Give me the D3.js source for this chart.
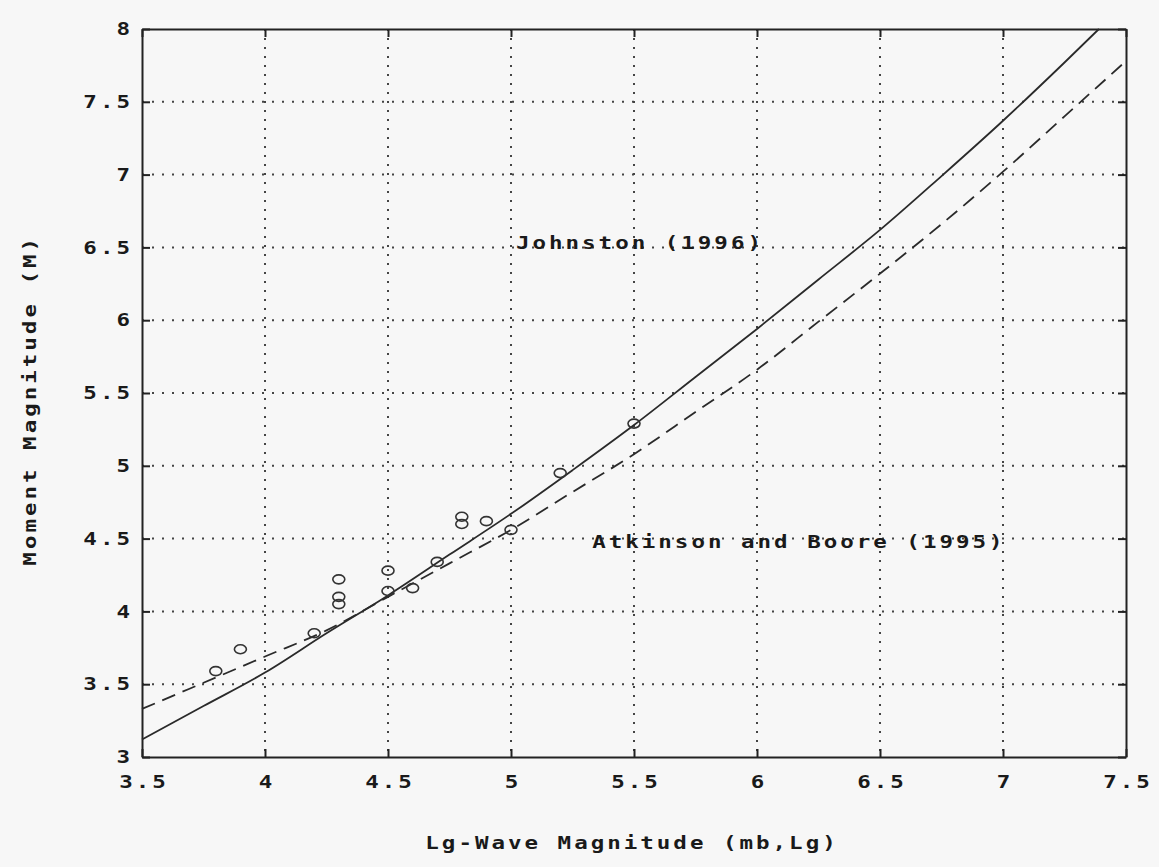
<!DOCTYPE html>
<html>
<head>
<meta charset="utf-8">
<script src="https://cdn.jsdelivr.net/npm/d3@7"></script>
<style>
  html, body { margin: 0; padding: 0; background: #f7f7f7; }
  svg { display: block; }
  text { font-family: "DejaVu Sans Mono", "Liberation Mono", monospace; font-weight: bold; fill: #1a1a1a; }
</style>
</head>
<body>
<svg id="chart" width="1159" height="867"></svg>
<script>
// ---- data ----
const xTicks = [3.5, 4, 4.5, 5, 5.5, 6, 6.5, 7, 7.5];
const yTicks = [3, 3.5, 4, 4.5, 5, 5.5, 6, 6.5, 7, 7.5, 8];

// Johnston (1996) – solid line
const johnstonX = [3.5, 3.75, 4.0, 4.25, 4.5, 4.75, 5.0, 5.25, 5.5, 5.75, 6.0, 6.25, 6.5, 6.75, 7.0, 7.25, 7.39];
const johnstonY = [3.12, 3.35, 3.58, 3.85, 4.11, 4.39, 4.67, 4.97, 5.28, 5.61, 5.94, 6.28, 6.62, 6.99, 7.37, 7.77, 8.0];

// Atkinson and Boore (1995) – dashed line
const atkinsonX = [3.5, 3.75, 4.0, 4.25, 4.5, 4.75, 5.0, 5.25, 5.5, 5.75, 6.0, 6.25, 6.5, 6.75, 7.0, 7.25, 7.5];
const atkinsonY = [3.33, 3.51, 3.69, 3.87, 4.10, 4.33, 4.56, 4.82, 5.08, 5.37, 5.66, 5.99, 6.32, 6.66, 7.02, 7.40, 7.78];

// observed events (circles)
const obsX = [3.8, 3.9, 4.2, 4.3, 4.3, 4.3, 4.5, 4.5, 4.6, 4.7, 4.8, 4.8, 4.9, 5.0, 5.2, 5.5];
const obsY = [3.59, 3.74, 3.85, 4.22, 4.10, 4.05, 4.28, 4.14, 4.16, 4.34, 4.65, 4.60, 4.62, 4.56, 4.95, 5.29];

const labels = [
  { text: "Johnston (1996)", x: 5.02, y: 6.53 },
  { text: "Atkinson and Boore (1995)", x: 5.33, y: 4.48 }
];
const xTitle = "Lg-Wave Magnitude (mb,Lg)";
const yTitle = "Moment Magnitude (M)";

// ---- layout ----
const W = 1159, H = 867;
const m = { left: 142, right: 33, top: 29, bottom: 110 };
const iw = W - m.left - m.right, ih = H - m.top - m.bottom;

const svg = d3.select("#chart");
const g = svg.append("g").attr("transform", `translate(${m.left},${m.top})`);

const x = d3.scaleLinear().domain([3.5, 7.5]).range([0, iw]);
const y = d3.scaleLinear().domain([3, 8]).range([ih, 0]);

const FS = 18, LS = 2.4, SX = 1.25;
function styleText(sel) {
  return sel.attr("font-size", FS).attr("letter-spacing", LS).attr("dominant-baseline", "central");
}

// grid
g.append("g").selectAll("line").data(xTicks.slice(1, -1)).join("line")
  .attr("x1", d => x(d)).attr("x2", d => x(d)).attr("y1", 0).attr("y2", ih)
  .attr("stroke", "#444").attr("stroke-width", 2).attr("stroke-dasharray", "2,7");
g.append("g").selectAll("line").data(yTicks.slice(1, -1)).join("line")
  .attr("y1", d => y(d)).attr("y2", d => y(d)).attr("x1", 0).attr("x2", iw)
  .attr("stroke", "#444").attr("stroke-width", 2).attr("stroke-dasharray", "2,8");

// axes (inward ticks on all sides)
const tickLen = 8;
const axB = d3.axisBottom(x).tickValues(xTicks).tickSizeInner(-tickLen).tickSizeOuter(0).tickFormat("");
const axT = d3.axisTop(x).tickValues(xTicks).tickSizeInner(-tickLen).tickSizeOuter(0).tickFormat("");
const axL = d3.axisLeft(y).tickValues(yTicks).tickSizeInner(-tickLen).tickSizeOuter(0).tickFormat("");
const axR = d3.axisRight(y).tickValues(yTicks).tickSizeInner(-tickLen).tickSizeOuter(0).tickFormat("");
[[axB, `translate(0,${ih})`], [axT, "translate(0,0)"], [axL, "translate(0,0)"], [axR, `translate(${iw},0)`]]
  .forEach(([ax, tr]) => {
    const a = g.append("g").attr("transform", tr).call(ax);
    a.selectAll("path").attr("stroke", "#222").attr("stroke-width", 2);
    a.selectAll("line").attr("stroke", "#222").attr("stroke-width", 2);
  });

// tick labels
styleText(g.append("g").selectAll("text").data(xTicks).join("text")
  .attr("transform", d => `translate(${x(d) + 2},${ih + 25}) scale(${SX},1)`)
  .attr("text-anchor", "middle"))
  .text(d => d);
styleText(g.append("g").selectAll("text").data(yTicks).join("text")
  .attr("transform", d => `translate(-9,${y(d)}) scale(${SX},1)`)
  .attr("text-anchor", "end"))
  .text(d => d);

// curves
const line = d3.line().x(d => x(d[0])).y(d => y(d[1])).curve(d3.curveMonotoneX);
g.append("path").datum(johnstonX.map((v, i) => [v, johnstonY[i]]))
  .attr("d", line).attr("fill", "none").attr("stroke", "#2a2a2a").attr("stroke-width", 1.8);
g.append("path").datum(atkinsonX.map((v, i) => [v, atkinsonY[i]]))
  .attr("d", line).attr("fill", "none").attr("stroke", "#2a2a2a").attr("stroke-width", 1.8)
  .attr("stroke-dasharray", "14,8");

// observations
g.append("g").selectAll("ellipse").data(obsX.map((v, i) => [v, obsY[i]])).join("ellipse")
  .attr("cx", d => x(d[0])).attr("cy", d => y(d[1]))
  .attr("rx", 6).attr("ry", 4.5)
  .attr("fill", "none").attr("stroke", "#333").attr("stroke-width", 1.6);

// annotations
styleText(g.append("g").selectAll("text").data(labels).join("text")
  .attr("transform", d => `translate(${x(d.x)},${y(d.y)}) scale(${SX},1)`))
  .text(d => d.text);

// axis titles
styleText(svg.append("text")
  .attr("transform", `translate(${m.left + x(5.5) - 2},843) scale(${SX},1)`)
  .attr("text-anchor", "middle"))
  .text(xTitle);
styleText(svg.append("text")
  .attr("transform", `translate(30,${m.top + y(5.45)}) rotate(-90) scale(${SX},1)`)
  .attr("text-anchor", "middle"))
  .text(yTitle);
</script>
</body>
</html>
